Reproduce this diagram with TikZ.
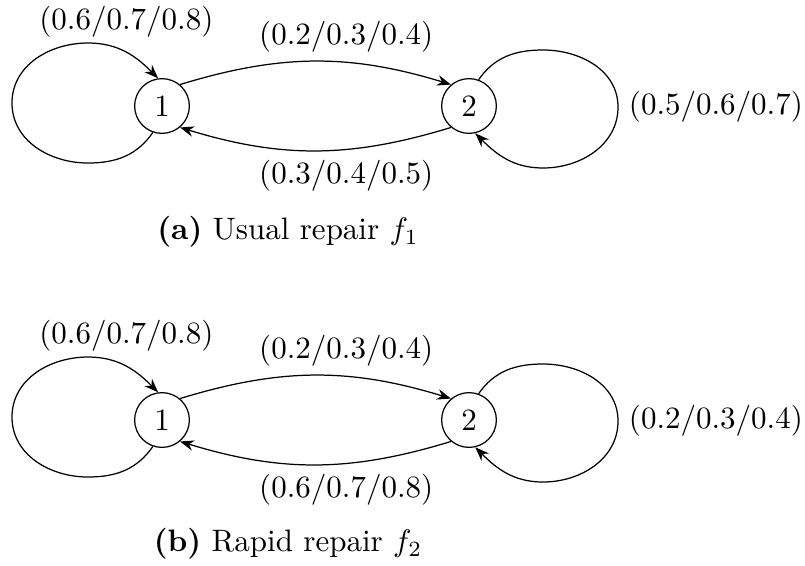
\documentclass[tikz,border=0pt]{standalone}
\usetikzlibrary{arrows.meta,calc}
\begin{document}
\begin{tikzpicture}[x=0.3226pt,y=0.3226pt,
  statenode/.style={draw,circle,inner sep=3.33pt},
  trans/.style={-{Stealth[length=4.5pt,width=3.4pt]},line width=0.4pt},
  lbl/.style={inner sep=3.33pt}]
\useasboundingbox (0,0) rectangle (805,-565);

% ---------- (a) ----------
\node[statenode] (a1) at (162,-106) {1};
\node[statenode] (a2) at (469,-106) {2};
\draw[trans] (a1.251) to[out=235,in=0] ($(a1)+(-74,-57)$)
  to[out=180,in=-90] ($(a1)+(-150,3)$)
  to[out=90,in=180] ($(a1)+(-74,63)$)
  to[out=0,in=135] node[lbl,pos=0.5,above=1.5pt] (la1) {(0.6/0.7/0.8)} (a1.98);
\draw[trans] (a1.50) to[out=17,in=163] node[lbl,pos=0.62,above] (la2) {(0.2/0.3/0.4)} (a2.130);
\draw[trans] (a2.230) to[out=197,in=-17] node[lbl,pos=0.38,below] (la3) {(0.3/0.4/0.5)} (a1.310);
\draw[trans] (a2.70) to[out=55,in=180] ($(a2)+(74,56)$)
  to[out=0,in=90] ($(a2)+(149,-1)$) node[lbl,right] (la4) {(0.5/0.6/0.7)}
  to[out=-90,in=0] ($(a2)+(74,-62)$)
  to[out=180,in=-45] (a2.283);
\node (capa) at (288,-232) {\textbf{(a)} Usual repair $f_1$};

% ---------- (b) ----------
\node[statenode] (b1) at (162,-420) {1};
\node[statenode] (b2) at (469,-420) {2};
\draw[trans] (b1.251) to[out=235,in=0] ($(b1)+(-74,-57)$)
  to[out=180,in=-90] ($(b1)+(-150,3)$)
  to[out=90,in=180] ($(b1)+(-74,63)$)
  to[out=0,in=135] node[lbl,pos=0.5,above=1.5pt] (lb1) {(0.6/0.7/0.8)} (b1.98);
\draw[trans] (b1.50) to[out=17,in=163] node[lbl,pos=0.62,above] (lb2) {(0.2/0.3/0.4)} (b2.130);
\draw[trans] (b2.230) to[out=197,in=-17] node[lbl,pos=0.38,below] (lb3) {(0.6/0.7/0.8)} (b1.310);
\draw[trans] (b2.70) to[out=55,in=180] ($(b2)+(74,56)$)
  to[out=0,in=90] ($(b2)+(149,-1)$) node[lbl,right] (lb4) {(0.2/0.3/0.4)}
  to[out=-90,in=0] ($(b2)+(74,-62)$)
  to[out=180,in=-45] (b2.283);
\node (capb) at (288,-544) {\textbf{(b)} Rapid repair $f_2$};
\end{tikzpicture}
\end{document}
